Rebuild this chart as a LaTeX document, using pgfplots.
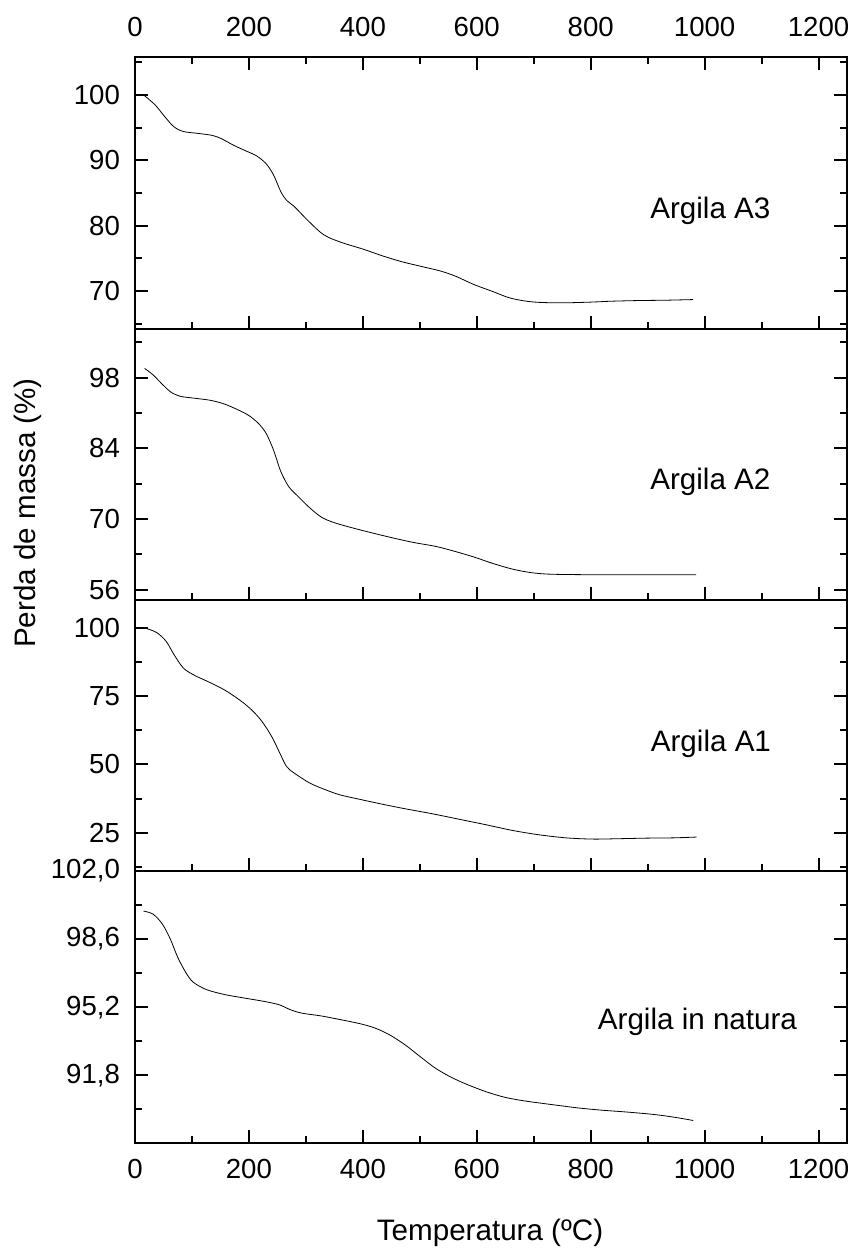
\documentclass[border=0pt]{standalone}
\usepackage{fontspec}
\setmainfont{Liberation Sans}
\usepackage{pgfplots}
\pgfplotsset{compat=1.18}

\pgfplotsset{
  tga/.style={
    scale only axis, width=356pt, xmin=0, xmax=1250,
    anchor=south west,
    xtick={0,200,...,1200}, minor xtick={100,300,...,1100},
    tick align=inside, major tick length=6.5pt, minor tick length=3.5pt,
    every tick/.style={black, line width=1pt},
    axis line style={line width=1pt},
    ytick pos=both, yticklabel pos=left,
    tick label style={font=\fontsize{13.8}{16}\selectfont},
    /pgf/number format/assume math mode=true,
    /pgf/number format/1000 sep={},
    yticklabel style={xshift=-4pt},
    cycle list={{black, line width=0.6pt, mark=none}},
    every axis plot/.append style={smooth, tension=0.5},
  },
}
\tikzset{lbl/.style={anchor=base west, inner sep=0pt, font=\fontsize{14.8}{17}\selectfont}}

\begin{document}
\begin{tikzpicture}
\path[use as bounding box] (0,0) rectangle (428pt,624pt);

% Argila A3
\begin{axis}[tga, at={(67.5pt,459.5pt)}, height=136pt,
  ymin=64.2, ymax=105.8, ytick={70,80,90,100}, minor ytick={65,75,85,95,105},
  xtick pos=both, xticklabel pos=upper,
  xticklabel style={yshift=6.7pt}]
\addplot coordinates {(15,100) (35,98.5) (52,96.7) (68,95.15) (85,94.4) (112,94.1) (136,93.8) (152,93.3) (172,92.35) (193,91.5) (213,90.7) (230,89.5) (243,87.8) (256,85.2) (266,83.9) (280,82.9) (300,81.1) (324,79.1) (340,78.2) (367,77.3) (401,76.4) (434,75.4) (468,74.5) (501,73.8) (535,73.1) (562,72.3) (595,71.0) (629,69.9) (656,69.0) (683,68.5) (710,68.27) (750,68.2) (797,68.3) (837,68.45) (884,68.55) (931,68.6) (980,68.7)};
\node[lbl] at (axis cs:904,81.1) {Argila A3};
\end{axis}

% Argila A2
\begin{axis}[tga, at={(67.5pt,324pt)}, height=135.5pt,
  ymin=54, ymax=107.6, ytick={56,70,84,98}, minor ytick={63,77,91,105},
  xtick pos=bottom, xticklabels={}]
\addplot coordinates {(17,99.8) (32,98.5) (45,97.0) (62,95.2) (79,94.3) (105,93.9) (132,93.5) (156,92.8) (179,91.7) (199,90.55) (216,89.0) (230,87.0) (243,83.7) (256,79.4) (270,76.4) (287,74.4) (307,72.2) (327,70.4) (347,69.4) (374,68.5) (408,67.5) (448,66.4) (488,65.4) (528,64.6) (562,63.6) (595,62.5) (629,61.2) (663,60.1) (696,59.4) (730,59.1) (797,59.0) (864,59.0) (931,59.0) (985,59.0)};
\node[lbl] at (axis cs:904,75.9) {Argila A2};
\end{axis}

% Argila A1
\begin{axis}[tga, at={(67.5pt,188.5pt)}, height=135.4pt,
  ymin=11.1, ymax=110, ytick={25,50,75,100}, minor ytick={12.5,37.5,62.5,87.5},
  xtick pos=bottom, xticklabels={}]
\addplot coordinates {(18,99.8) (38,98.2) (55,94.9) (68,90.3) (85,85.2) (105,82.5) (132,79.9) (159,77.0) (186,73.2) (206,69.7) (223,65.7) (240,60.2) (253,54.7) (266,49.3) (280,46.8) (307,43.2) (334,40.8) (360,38.9) (394,37.3) (434,35.5) (475,33.8) (522,32.0) (569,30.0) (616,28.0) (663,25.9) (710,24.3) (757,23.2) (804,22.75) (851,22.9) (898,23.1) (945,23.2) (986,23.5)};
\node[lbl] at (axis cs:905,54.6) {Argila A1};
\end{axis}

% Argila in natura
\begin{axis}[tga, at={(67.5pt,52.35pt)}, height=136.15pt,
  ymin=88.4, ymax=102.0, ytick={91.8,95.2,98.6,102.0}, minor ytick={90.1,93.5,96.9,100.3},
  yticklabel style={/pgf/number format/.cd, fixed, fixed zerofill, precision=1, use comma},
  xtick pos=bottom, xticklabel style={yshift=-4.6pt}]
\addplot coordinates {(15,100.0) (32,99.84) (48,99.35) (62,98.6) (75,97.69) (89,96.94) (102,96.45) (126,96.07) (159,95.82) (193,95.65) (226,95.49) (253,95.32) (273,95.07) (293,94.9) (327,94.76) (360,94.58) (394,94.38) (421,94.16) (448,93.8) (475,93.3) (501,92.72) (528,92.14) (555,91.7) (582,91.35) (616,90.98) (649,90.7) (683,90.52) (730,90.34) (777,90.17) (817,90.06) (864,89.96) (911,89.84) (945,89.71) (980,89.54)};
\node[lbl] at (axis cs:812,94.1) {Argila in natura};
\end{axis}

\node[rotate=90, font=\fontsize{14.8}{17}\selectfont] at (13.75pt,367.5pt) {Perda de massa (\%)};
\node[anchor=base, font=\fontsize{14.8}{17}\selectfont] at (245pt,4pt) {Temperatura (ºC)};
\end{tikzpicture}
\end{document}
